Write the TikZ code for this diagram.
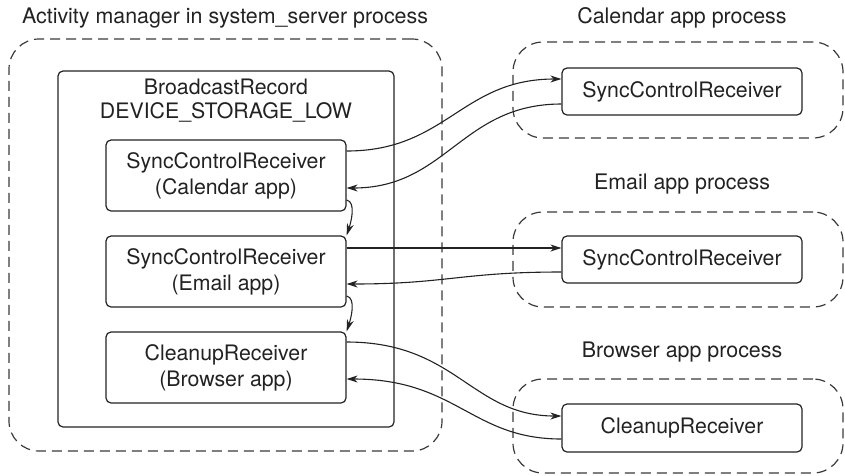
\documentclass[tikz,border=0pt]{standalone}
\usepackage{fontspec}
\setmainfont{TeX Gyre Heros}
\usetikzlibrary{arrows.meta,calc}
\definecolor{ink}{HTML}{222222}
\definecolor{dashink}{HTML}{3a3a3a}
\tikzset{
  lbl/.style={font=\fontsize{21.4}{26}\selectfont, text=ink, align=center, inner sep=0pt},
  procbox/.style={draw=dashink, line width=1.2pt, dash pattern=on 10pt off 6pt, rounded corners=30pt, inner sep=0pt},
  recbox/.style={draw=ink, line width=1.2pt, rounded corners=5pt, inner sep=0pt, minimum width=240pt, align=center, font=\fontsize{21.3}{26}\selectfont, text=ink},
  conn/.style={draw=ink, line width=1.1pt, -{Stealth[length=11pt,width=7pt]}}
}
\begin{document}
\begin{tikzpicture}[x=1pt,y=-1pt]
\useasboundingbox (0,0) rectangle (845,475);
% left process
\node[lbl] (tsys) at (225,18) {Activity manager in system\_server process};
\node[procbox, minimum width=433pt, minimum height=412pt] (sys) at (225.5,245) {};
\node[draw=ink, line width=1.2pt, rounded corners=5pt, minimum width=336pt, minimum height=356pt, inner sep=0pt] (br) at (226,249) {};
\node[lbl, font=\fontsize{21.3}{24}\selectfont] (brt) at (226,101) {BroadcastRecord\\DEVICE\_STORAGE\_LOW};
\node[recbox, minimum height=71pt] (b1) at (226,175.5) {SyncControlReceiver\\(Calendar app)};
\node[recbox, minimum height=71pt] (b2) at (226,271.5) {SyncControlReceiver\\(Email app)};
\node[recbox, minimum height=71pt] (b3) at (226,367.5) {CleanupReceiver\\(Browser app)};
% right processes
\node[lbl] (tcal) at (682,18) {Calendar app process};
\node[procbox, minimum width=330pt, minimum height=96pt] (pcal) at (678,90) {};
\node[recbox, minimum height=47pt] (rcal) at (682,91.5) {SyncControlReceiver};
\node[lbl] (tem) at (682,184) {Email app process};
\node[procbox, minimum width=330pt, minimum height=95pt] (pem) at (678,259.5) {};
\node[recbox, minimum height=47pt] (rem) at (682,259.5) {SyncControlReceiver};
\node[lbl] (tbr) at (682,352) {Browser app process};
\node[procbox, minimum width=330pt, minimum height=94pt] (pbr) at (678,426) {};
\node[recbox, minimum height=48pt] (rbr) at (682,428) {CleanupReceiver};
% connectors
\draw[conn] ($(b1.east)+(0,-24.5)$) .. controls +(100,0) and +(-100,0) .. ($(rcal.west)+(0,-12.5)$);
\draw[conn] ($(rcal.west)+(0,12.5)$) .. controls +(-100,0) and +(100,0) .. ($(b1.east)+(0,12.5)$);
\draw[conn] ($(b2.east)+(0,-23.5)$) -- ($(rem.west)+(0,-11.5)$);
\draw[conn] ($(rem.west)+(0,12.5)$) .. controls +(-100,0) and +(100,0) .. ($(b2.east)+(0,12.5)$);
\draw[conn] ($(b3.east)+(0,-25.5)$) .. controls +(110,0) and +(-90,0) .. ($(rbr.west)+(0,-12)$);
\draw[conn] ($(rbr.west)+(0,11)$) .. controls +(-90,0) and +(110,0) .. ($(b3.east)+(0,11.5)$);
\draw[conn, -{Stealth[length=12pt,width=7pt]}] ($(b1.east)+(0,24.5)$) .. controls +(10,2) and +(4,-12) .. (b2.north east);
\draw[conn, -{Stealth[length=12pt,width=7pt]}] ($(b2.east)+(0,24.5)$) .. controls +(10,2) and +(4,-12) .. (b3.north east);
\end{tikzpicture}
\end{document}
